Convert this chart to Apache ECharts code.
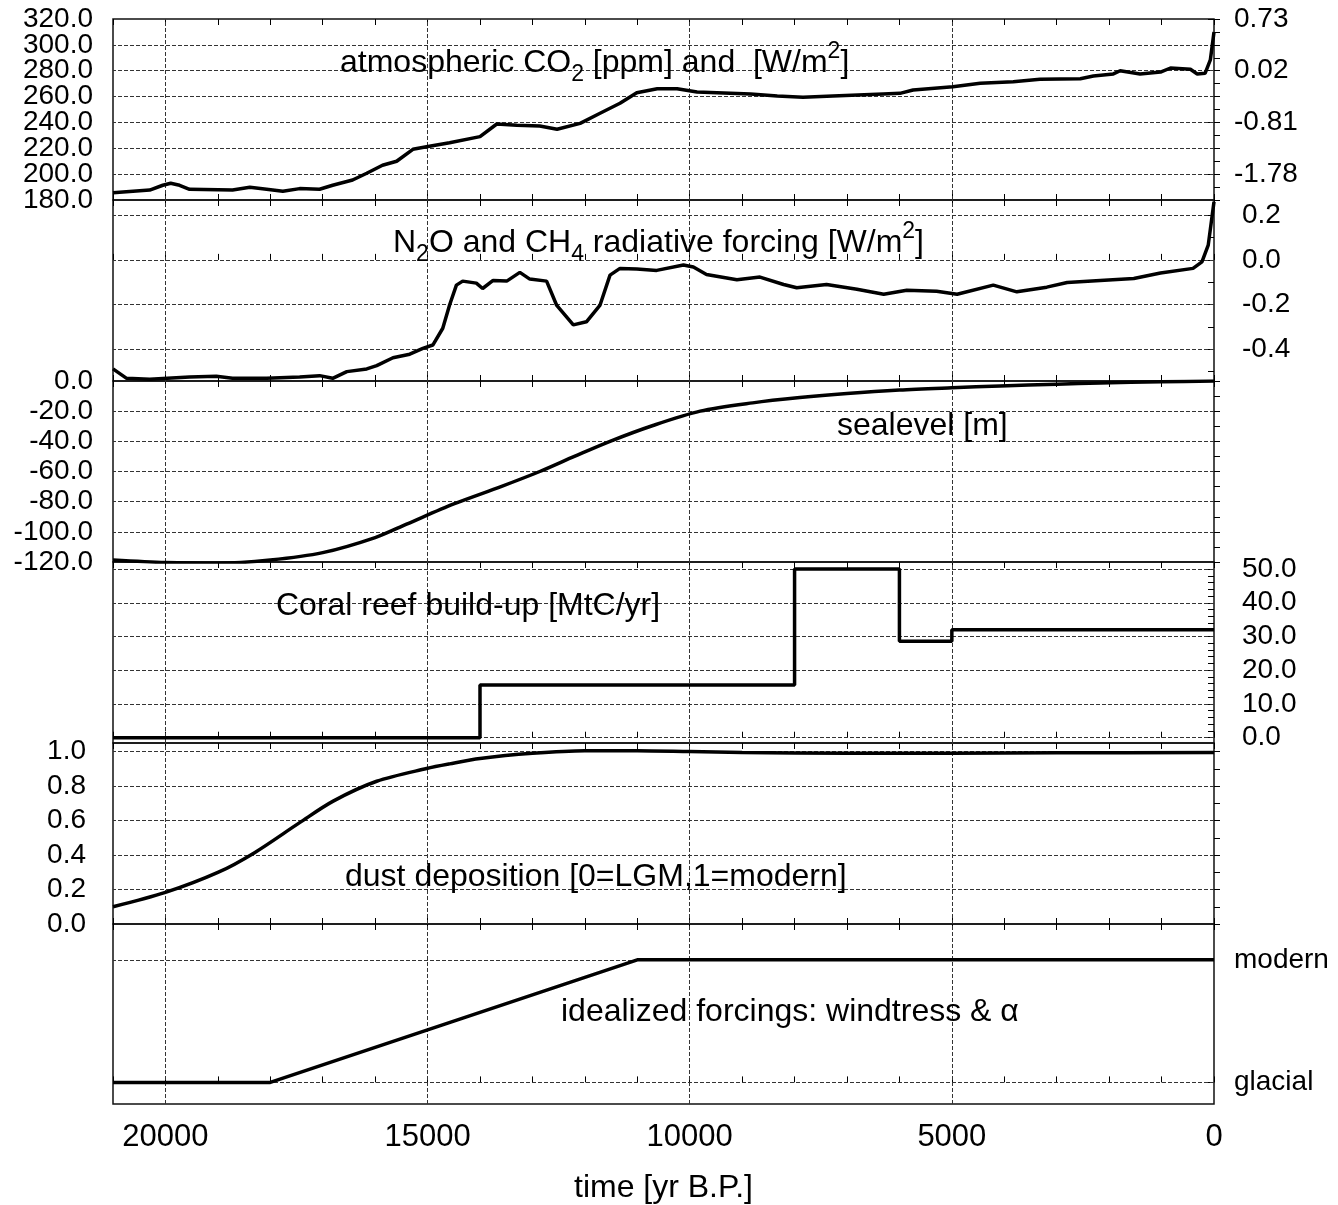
<!DOCTYPE html>
<html>
<head>
<meta charset="utf-8">
<script src="https://cdn.jsdelivr.net/npm/echarts@6/dist/echarts.min.js"></script>
<style>
  html, body { margin: 0; padding: 0; background: #fff; }
  #chart { width: 1338px; height: 1205px; }
</style>
</head>
<body>
<div id="chart"></div>
<script>
// ---- time axis (years before present) ----
const timeLabelValues = [20000, 15000, 10000, 5000, 0];
const timeGridValues = [20000, 15000, 10000, 5000];

// ---- atmospheric CO2 [ppm] ----
const co2Years = [21000, 20300, 20050, 19900, 19730, 19540, 18720, 18390, 18070, 17760, 17440, 17060, 16810, 16430, 16160, 15860, 15590, 15280, 15020, 14580, 14000, 13680, 13300, 12860, 12530, 12090, 11710, 11330, 11010, 10620, 10240, 9860, 9480, 8840, 8330, 7840, 7270, 6310, 5990, 5740, 4980, 4460, 3830, 3320, 2550, 2300, 1920, 1790, 1410, 1020, 830, 450, 320, 170, 70, 0];
const co2Ppm = [185.7, 187.7, 191.4, 193.0, 191.4, 188.3, 187.7, 189.8, 188.3, 186.7, 188.8, 188.3, 191.4, 195.5, 200.7, 206.9, 210.0, 219.2, 221.2, 224.3, 229.0, 238.8, 237.8, 237.2, 234.7, 239.3, 247.1, 254.8, 263.0, 266.1, 266.1, 263.5, 263.0, 262.0, 260.4, 259.4, 260.4, 262.0, 262.5, 265.1, 267.6, 270.3, 271.5, 273.4, 273.8, 275.9, 277.5, 280.0, 277.5, 279.0, 282.1, 281.1, 277.5, 278.0, 288.3, 310.0];
const co2TickValues = [180, 190, 200, 210, 220, 230, 240, 250, 260, 270, 280, 290, 300, 310, 320];
const co2LabelValues = [180, 200, 220, 240, 260, 280, 300, 320];
const co2ForcingTickPpm = [320, 280, 240, 200];
const co2ForcingTickLabels = ['0.73', '0.02', '-0.81', '-1.78'];

// ---- N2O and CH4 radiative forcing [W/m2] ----
const n2oYears = [21000, 20740, 20300, 19540, 19030, 18720, 18070, 17440, 17060, 16810, 16540, 16160, 15970, 15660, 15340, 15090, 14900, 14710, 14580, 14450, 14330, 14070, 13950, 13750, 13490, 13240, 13050, 12730, 12540, 12220, 11970, 11710, 11520, 11330, 11010, 10630, 10120, 9930, 9680, 9100, 8660, 8210, 7960, 7390, 6810, 6300, 5860, 5290, 4900, 4210, 3760, 3190, 2800, 2170, 1530, 1020, 400, 230, 110, 0];
const n2oForcing = [-0.488, -0.530, -0.534, -0.524, -0.521, -0.530, -0.530, -0.524, -0.518, -0.530, -0.500, -0.488, -0.473, -0.438, -0.422, -0.396, -0.381, -0.306, -0.202, -0.113, -0.095, -0.104, -0.128, -0.092, -0.095, -0.056, -0.086, -0.095, -0.202, -0.291, -0.277, -0.202, -0.068, -0.038, -0.041, -0.047, -0.023, -0.032, -0.065, -0.089, -0.077, -0.110, -0.125, -0.110, -0.131, -0.154, -0.136, -0.140, -0.154, -0.113, -0.143, -0.122, -0.101, -0.092, -0.083, -0.059, -0.038, -0.009, 0.066, 0.260];
const n2oTickValues = [-0.5, -0.4, -0.3, -0.2, -0.1, 0, 0.1, 0.2];
const n2oLabelValues = [-0.4, -0.2, 0, 0.2];

// ---- sea level [m] ----
const seaYears = [21000, 20000, 19000, 18000, 17000, 16000, 15400, 14500, 13600, 12860, 12200, 11520, 10700, 9800, 8800, 7900, 7000, 6000, 5000, 4080, 3000, 2170, 1000, 0];
const seaLevel = [-118.7, -120.4, -120.9, -118.7, -113.8, -103.8, -94.9, -81.5, -70, -60, -50, -40, -29.5, -20, -14.5, -11, -8.3, -6, -4.5, -3.3, -2.1, -1.3, -0.5, 0];
const seaTickValues = [-120, -110, -100, -90, -80, -70, -60, -50, -40, -30, -20, -10, 0];
const seaLabelValues = [-120, -100, -80, -60, -40, -20, 0];

// ---- coral reef build-up [MtC/yr], piecewise constant ----
const coralYears = [21000, 14000, 8000, 6000, 5000, 0];
const coralRate = [0, 15.6, 50, 28.6, 32, 32];
const coralTickValues = [0, 2, 4, 6, 8, 10, 12, 14, 16, 18, 20, 22, 24, 26, 28, 30, 32, 34, 36, 38, 40, 42, 44, 46, 48, 50];
const coralLabelValues = [0, 10, 20, 30, 40, 50];

// ---- dust deposition [0=LGM, 1=modern] ----
const dustYears = [21000, 20000, 19000, 18300, 17440, 16800, 15970, 15020, 14580, 14000, 13000, 12000, 11000, 10000, 9000, 7000, 5000, 3000, 0];
const dustIndex = [0.10, 0.183, 0.299, 0.414, 0.588, 0.713, 0.828, 0.902, 0.929, 0.96, 0.99, 1.005, 1.005, 1.0, 0.995, 0.99, 0.99, 0.993, 0.995];
const dustTickValues = [0, 0.1, 0.2, 0.3, 0.4, 0.5, 0.6, 0.7, 0.8, 0.9, 1.0];
const dustLabelValues = [0, 0.2, 0.4, 0.6, 0.8, 1.0];

// ---- idealized forcings: wind stress & albedo ----
const idealYears = [21000, 18000, 11000, 0];
const idealState = [0, 0, 1, 1];
const stateValues = [0, 1];
const stateLabels = ['glacial', 'modern'];

// ---- panel titles ----
const panelTitles = [
  'atmospheric CO{sub|2} [ppm] and  [W/m{sup|2}]',
  'N{sub|2}O and CH{sub|4} radiative forcing [W/m{sup|2}]',
  'sealevel [m]',
  'Coral reef build-up [MtC/yr]',
  'dust deposition [0=LGM,1=modern]',
  'idealized forcings: windtress & \u03b1'
];
const timeAxisName = 'time [yr B.P.]';

// ---------------- layout & styling ----------------
const FONT = "'Liberation Sans', Arial, Helvetica, sans-serif";
const INK = '#000';
const PANEL_TOPS = [19, 200, 381, 562, 743, 924];
const PANEL_H = 181;
const GRID_LEFT = 113, GRID_RIGHT = 124;
const TITLE_POS = [[340, 40], [393, 220], [837, 403], [276, 583], [345, 854], [561, 989]];

const pairs = (xs, ys) => xs.map((x, i) => [x, ys[i]]);
const fmt1 = v => Number(v).toFixed(1);
const evenItems = arr => arr.filter((_, i) => i % 2 === 0);
const oddItems = arr => arr.filter((_, i) => i % 2 === 1);

const grids = PANEL_TOPS.map(t => ({
  left: GRID_LEFT, right: GRID_RIGHT, top: t, height: PANEL_H,
  show: true, borderColor: '#111', borderWidth: 1.5, backgroundColor: 'transparent'
}));

const xAxes = [];
PANEL_TOPS.forEach((t, i) => {
  ['bottom', 'top'].forEach(pos => {
    const isTimeAxis = (i === 5 && pos === 'bottom');
    xAxes.push({
      gridIndex: i, type: 'value', position: pos,
      min: 0, max: 21000, interval: 1000, inverse: true,
      axisLine: { show: false },
      axisTick: { show: true, inside: true, length: 6, lineStyle: { color: INK, width: 1 } },
      splitLine: { show: false },
      axisLabel: isTimeAxis ? {
        show: true, customValues: timeLabelValues, formatter: v => String(v),
        showMinLabel: true, showMaxLabel: true,
        fontSize: 31, fontFamily: FONT, color: INK, margin: 18
      } : { show: false },
      name: isTimeAxis ? timeAxisName : '',
      nameLocation: 'middle', nameGap: 68,
      nameTextStyle: { fontSize: 32, fontFamily: FONT, color: INK }
    });
  });
});

function yAxis(grid, pos, min, max, ticks, labels, formatter, margin) {
  return {
    gridIndex: grid, type: 'value', position: pos, min, max,
    axisLine: { show: false },
    axisTick: ticks
      ? { show: true, inside: true, length: 6, customValues: ticks, lineStyle: { color: INK, width: 1 } }
      : { show: false },
    axisLabel: {
      show: true, customValues: labels, formatter,
      showMinLabel: true, showMaxLabel: true, hideOverlap: false,
      fontSize: 28, fontFamily: FONT, color: INK, margin
    },
    splitLine: { show: false }
  };
}

// the CO2 ppm labels sit closer than one text height, so they are split
// over two coincident left axes (alternate labels each)
const yAxes = [
  yAxis(0, 'left', 180, 320, co2TickValues, evenItems(co2LabelValues), fmt1, 20),   // 0
  yAxis(0, 'left', 180, 320, null, oddItems(co2LabelValues), fmt1, 20),             // 1
  yAxis(0, 'right', 180, 320, co2ForcingTickPpm, co2ForcingTickPpm,
        v => co2ForcingTickLabels[co2ForcingTickPpm.indexOf(Number(v))], 20),       // 2
  yAxis(1, 'right', -0.542, 0.268, n2oTickValues, n2oLabelValues, fmt1, 28),        // 3
  yAxis(2, 'left', -120, 0, seaTickValues, seaLabelValues, fmt1, 20),               // 4
  yAxis(3, 'right', -1.57, 52.08, coralTickValues, coralLabelValues, fmt1, 28),     // 5
  yAxis(4, 'left', 0, 1.05, dustTickValues, dustLabelValues, fmt1, 27),             // 6
  yAxis(5, 'right', -0.176, 1.292, stateValues, stateValues,
        v => stateLabels[stateValues.indexOf(Number(v))], 20)                       // 7
];

// dashed reference grid drawn underneath each curve
function gridMarks(yValues) {
  return {
    silent: true, symbol: ['none', 'none'], z: 1, animation: false,
    label: { show: false },
    lineStyle: { type: [4, 2], color: '#333', width: 1 },
    emphasis: { disabled: true },
    data: yValues.map(v => ({ yAxis: v })).concat(timeGridValues.map(v => ({ xAxis: v })))
  };
}

function curve(grid, yIdx, data, extra, marks) {
  return Object.assign({
    type: 'line', xAxisIndex: grid * 2, yAxisIndex: yIdx, data,
    symbol: 'none', showSymbol: false, z: 3, animation: false, silent: true,
    lineStyle: { color: INK, width: 3.5 },
    markLine: gridMarks(marks)
  }, extra || {});
}

const series = [
  curve(0, 0, pairs(co2Years, co2Ppm), null, co2LabelValues.slice(1, -1)),
  curve(1, 3, pairs(n2oYears, n2oForcing), null, n2oLabelValues),
  curve(2, 4, pairs(seaYears, seaLevel), { smooth: 0.3 }, seaLabelValues.slice(1, -1)),
  curve(3, 5, pairs(coralYears, coralRate), { step: 'end' }, coralLabelValues),
  curve(4, 6, pairs(dustYears, dustIndex), { smooth: 0.3 }, dustLabelValues.slice(1)),
  curve(5, 7, pairs(idealYears, idealState), null, stateValues)
];

const richScripts = {
  sub: { fontSize: 23, fontFamily: FONT, color: INK, verticalAlign: 'bottom', lineHeight: 46 },
  sup: { fontSize: 23, fontFamily: FONT, color: INK, verticalAlign: 'top', lineHeight: 46 }
};

const titles = panelTitles.map((text, i) => ({
  text, left: TITLE_POS[i][0], top: TITLE_POS[i][1], padding: 0,
  textStyle: {
    fontSize: 32, fontWeight: 'normal', fontFamily: FONT, color: INK,
    lineHeight: 46, rich: richScripts
  }
}));

const chart = echarts.init(document.getElementById('chart'), null, { renderer: 'canvas' });
chart.setOption({
  animation: false,
  backgroundColor: '#fff',
  textStyle: { fontFamily: FONT },
  title: titles,
  grid: grids,
  xAxis: xAxes,
  yAxis: yAxes,
  series
});
</script>
</body>
</html>
